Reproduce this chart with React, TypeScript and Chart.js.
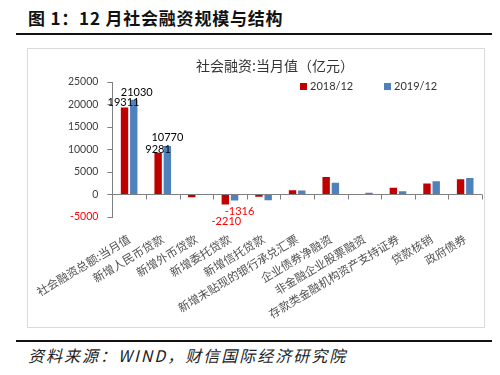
import React, { useEffect, useRef } from "react";
import { Chart, registerables } from "chart.js";

Chart.register(...registerables);

const categories = [
  "社会融资总额:当月值",
  "新增人民币贷款",
  "新增外币贷款",
  "新增委托贷款",
  "新增信托贷款",
  "新增未贴现的银行承兑汇票",
  "企业债券净融资",
  "非金融企业股票融资",
  "存款类金融机构资产支持证券",
  "贷款核销",
  "政府债券",
];
const series2018 = [19311, 9281, -600, -2210, -500, 950, 3900, 90, 1480, 2430, 3390];
const series2019 = [21030, 10770, -40, -1316, -1250, 880, 2600, 380, 730, 2950, 3690];
const seriesNames = ["2018/12", "2019/12"];
const labelledIndices = [0, 1, 3];
const yMin = -5000;
const yMax = 25000;
const yStep = 5000;

const RED = "#C00000";
const BLUE = "#4F81BD";
const CJK = '"Noto Sans CJK SC", sans-serif';
const NUM = 'Lato, "Noto Sans", sans-serif';

// label offsets [seriesIndex-categoryIndex] -> [dx, dy from bar end]
const labelOffsets: Record<string, [number, number]> = {
  "0-0": [-1, -5],
  "1-0": [3, -7],
  "0-1": [0, -3],
  "1-1": [0, -9],
  "0-3": [1, 17],
  "1-3": [5, 11],
};

const extrasPlugin = {
  id: "extras",
  afterDatasetsDraw(chart: any) {
    const { ctx } = chart;
    const x = chart.scales.x;
    const y = chart.scales.y;
    const y0 = y.getPixelForValue(0);
    ctx.save();
    ctx.strokeStyle = "#808080";
    ctx.lineWidth = 1;
    const n = categories.length;
    const step = x.getPixelForValue(1) - x.getPixelForValue(0);
    for (let i = 0; i <= n; i++) {
      let px = i < n ? x.getPixelForValue(i) - step / 2 : x.getPixelForValue(n - 1) + step / 2;
      px = Math.round(px) + 0.5;
      ctx.beginPath();
      ctx.moveTo(px, y0);
      ctx.lineTo(px, y0 + 5);
      ctx.stroke();
    }
    ctx.font = `11px ${NUM}`;
    ctx.textAlign = "center";
    ctx.textBaseline = "middle";
    chart.data.datasets.forEach((ds: any, si: number) => {
      const meta = chart.getDatasetMeta(si);
      labelledIndices.forEach((ci) => {
        const v = ds.data[ci];
        const bar = meta.data[ci];
        const off = labelOffsets[`${si}-${ci}`] || [0, v >= 0 ? -7 : 7];
        ctx.fillStyle = v < 0 ? "#FF0000" : "#000000";
        ctx.fillText(String(v), bar.x + off[0], bar.y + off[1]);
      });
    });
    ctx.restore();
  },
};

function ChartBox() {
  const ref = useRef<HTMLCanvasElement>(null);
  useEffect(() => {
    if (!ref.current) return;
    const chart = new Chart(ref.current, {
      type: "bar",
      data: {
        labels: categories,
        datasets: [
          {
            label: seriesNames[0],
            data: series2018,
            backgroundColor: RED,
            barPercentage: 0.8,
            categoryPercentage: 0.55,
          },
          {
            label: seriesNames[1],
            data: series2019,
            backgroundColor: BLUE,
            barPercentage: 0.8,
            categoryPercentage: 0.55,
          },
        ],
      },
      options: {
        animation: false,
        responsive: true,
        maintainAspectRatio: false,
        layout: { padding: { top: 34, right: 3, left: 0, bottom: 0 } },
        plugins: { legend: { display: false }, title: { display: false }, tooltip: { enabled: false } },
        scales: {
          x: {
            grid: { display: false },
            border: { display: false },
            ticks: {
              autoSkip: false,
              maxRotation: 31,
              minRotation: 31,
              padding: 7,
              color: "#505050",
              font: { family: CJK, size: 11.5 },
            },
            afterFit(scale: any) {
              scale.height = 111;
            },
          },
          y: {
            min: yMin,
            max: yMax,
            ticks: {
              stepSize: yStep,
              padding: 9,
              callback: (v: any) => String(v),
              color: (c: any) => (c.tick && c.tick.value < 0 ? "#FF0000" : "#404040"),
              font: { family: NUM, size: 10.5 },
            },
            grid: {
              drawOnChartArea: true,
              drawTicks: true,
              tickLength: 5,
              color: (c: any) => (c.tick && c.tick.value === 0 ? "#808080" : "rgba(0,0,0,0)"),
              tickColor: "#808080",
            },
            border: { display: true, color: "#808080" },
            afterFit(scale: any) {
              scale.width = 81;
            },
          },
        },
      },
      plugins: [extrasPlugin],
    });
    return () => chart.destroy();
  }, []);
  return <canvas ref={ref} />;
}

export default function App() {
  return (
    <div
      style={{
        position: "fixed",
        left: 0,
        top: 0,
        width: 500,
        height: 375,
        background: "#fff",
        fontFamily: CJK,
        overflow: "hidden",
      }}
    >
      <div
        style={{
          position: "absolute",
          left: 28,
          top: 7,
          fontSize: 17,
          lineHeight: "22px",
          fontWeight: 700,
          color: "#111",
          whiteSpace: "nowrap",
          letterSpacing: 0.8,
        }}
      >
        图 1：12 月社会融资规模与结构
      </div>
      <div style={{ position: "absolute", left: 16, top: 33, width: 476, height: 2, background: "#111" }} />
      <div
        style={{
          position: "absolute",
          left: 27,
          top: 48,
          width: 458,
          height: 280,
          boxSizing: "border-box",
          border: "1px solid #D9D9D9",
        }}
      />
      <div style={{ position: "absolute", left: 27, top: 48, width: 458, height: 280 }}>
        <ChartBox />
      </div>
      <div
        style={{
          position: "absolute",
          left: 275,
          top: 56,
          transform: "translateX(-50%)",
          fontSize: 14,
          lineHeight: "18px",
          color: "#333",
          whiteSpace: "nowrap",
        }}
      >
        社会融资:当月值（亿元）
      </div>
      <div style={{ position: "absolute", left: 300, top: 83, width: 7, height: 7, background: RED }} />
      <div
        style={{ position: "absolute", left: 310, top: 79, fontFamily: NUM, fontSize: 11, lineHeight: "14px", color: "#333" }}
      >
        {seriesNames[0]}
      </div>
      <div style={{ position: "absolute", left: 384, top: 83, width: 7, height: 7, background: BLUE }} />
      <div
        style={{ position: "absolute", left: 394, top: 79, fontFamily: NUM, fontSize: 11, lineHeight: "14px", color: "#333" }}
      >
        {seriesNames[1]}
      </div>
      <div style={{ position: "absolute", left: 16, top: 340, width: 476, height: 2, background: "#111" }} />
      <div
        style={{
          position: "absolute",
          left: 28,
          top: 345,
          fontSize: 16,
          lineHeight: "20px",
          fontStyle: "italic",
          color: "#222",
          whiteSpace: "nowrap",
          letterSpacing: 2,
        }}
      >
        资料来源：WIND，财信国际经济研究院
      </div>
    </div>
  );
}
